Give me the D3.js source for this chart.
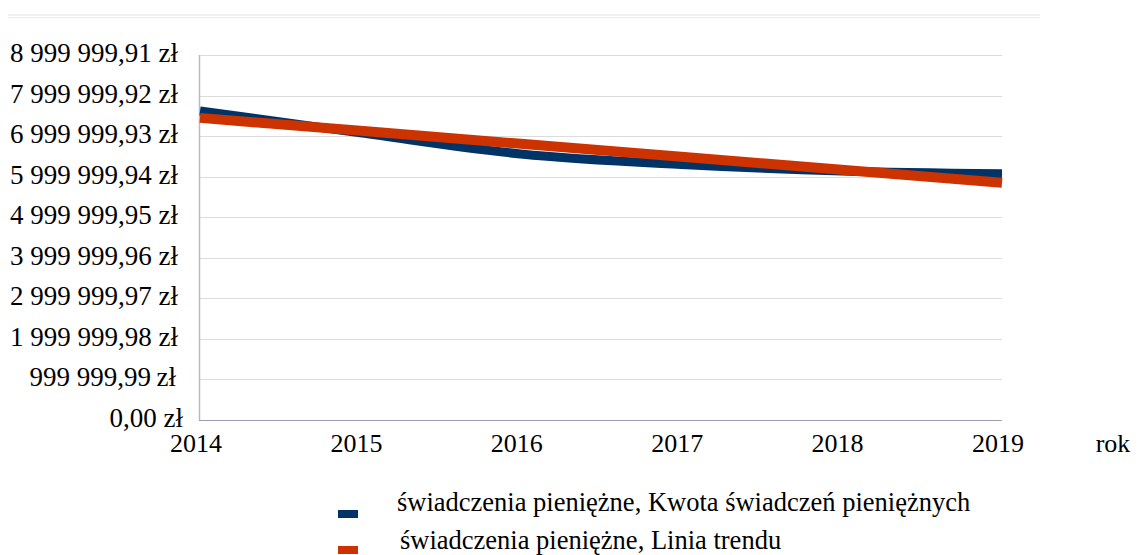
<!DOCTYPE html>
<html>
<head>
<meta charset="utf-8">
<script src="https://cdn.jsdelivr.net/npm/d3@7"></script>
<style>
  body { margin: 0; background: #fff; }
</style>
</head>
<body>
<script>
const years = [2014, 2015, 2016, 2017, 2018, 2019];
const amounts = [7620000, 7080000, 6560000, 6300000, 6140000, 6070000];
const trend = [7450000, 7130000, 6810000, 6490000, 6170000, 5850000];
const tickValues = [0, 999999.99, 1999999.98, 2999999.97, 3999999.96, 4999999.95,
                    5999999.94, 6999999.93, 7999999.92, 8999999.91];
const tickLabels = ["0,00 zł", "999 999,99\u2009zł", "1 999 999,98 zł", "2 999 999,97 zł",
                    "3 999 999,96 zł", "4 999 999,95 zł", "5 999 999,94 zł",
                    "6 999 999,93 zł", "7 999 999,92 zł", "8 999 999,91 zł"];
const seriesNames = ["świadczenia pieniężne, Kwota świadczeń pieniężnych",
                     "świadczenia pieniężne, Linia trendu"];
const colors = ["#003366", "#cc3300"];
const FONT = "Liberation Serif";

const svg = d3.select("body").append("svg")
  .attr("width", 1141)
  .attr("height", 555);

// top rule
svg.append("line").attr("x1", 8).attr("x2", 1040).attr("y1", 15).attr("y2", 15)
  .attr("stroke", "#e2e2e2").attr("stroke-width", 1);
svg.append("line").attr("x1", 8).attr("x2", 1040).attr("y1", 17.5).attr("y2", 17.5)
  .attr("stroke", "#ececec").attr("stroke-width", 1);

const x = d3.scaleLinear().domain([2014, 2019]).range([200, 1002]);
const y = d3.scaleLinear().domain([0, 8999999.91]).range([420, 55]);

// grid
svg.append("g").selectAll("line")
  .data(tickValues.slice(1))
  .enter().append("line")
  .attr("x1", 200).attr("x2", 1002)
  .attr("y1", d => Math.round(y(d)) + 0.5)
  .attr("y2", d => Math.round(y(d)) + 0.5)
  .attr("stroke", "#dcdcdc");

// axes lines
svg.append("line").attr("x1", 199.5).attr("x2", 199.5).attr("y1", 55).attr("y2", 420)
  .attr("stroke", "#b8b8cc").attr("stroke-width", 1.5);
svg.append("line").attr("x1", 199).attr("x2", 1002).attr("y1", 420.5).attr("y2", 420.5)
  .attr("stroke", "#9c9cb4").attr("stroke-width", 1);

// y labels
svg.append("g").selectAll("text")
  .data(tickValues)
  .enter().append("text")
  .attr("font-family", FONT)
  .attr("x", (d, i) => i === 0 ? 183 : (i === 1 ? 176 : 178))
  .attr("y", d => y(d) + 7)
  .attr("text-anchor", "end")
  .attr("font-size", 27)
  .text((d, i) => tickLabels[i]);

// x labels
svg.append("g").selectAll("text")
  .data(years)
  .enter().append("text")
  .attr("font-family", FONT)
  .attr("x", d => x(d) - 4)
  .attr("y", 452)
  .attr("text-anchor", "middle")
  .attr("font-size", 26)
  .text(d => d);

svg.append("text").attr("font-family", FONT).attr("x", 1113).attr("y", 452)
  .attr("text-anchor", "middle").attr("font-size", 26).text("rok");

// series
const amountLine = d3.line()
  .x((d, i) => x(years[i]))
  .y(d => y(d))
  .curve(d3.curveMonotoneX);
const trendLine = d3.line()
  .x((d, i) => x(years[i]))
  .y(d => y(d));

svg.append("path").datum(amounts)
  .attr("d", amountLine)
  .attr("fill", "none")
  .attr("stroke", colors[0])
  .attr("stroke-width", 9);

svg.append("path").datum(trend)
  .attr("d", trendLine)
  .attr("fill", "none")
  .attr("stroke", colors[1])
  .attr("stroke-width", 10);

// legend
const legend = svg.append("g");
[0, 1].forEach(i => {
  legend.append("rect")
    .attr("x", 338).attr("y", 510 + i * 36)
    .attr("width", 20).attr("height", 8)
    .attr("fill", colors[i]);
  legend.append("text")
    .attr("font-family", FONT)
    .attr("x", 397 + i * 3).attr("y", 511 + i * 38)
    .attr("font-size", 26.5)
    .text(seriesNames[i]);
});
</script>
</body>
</html>
